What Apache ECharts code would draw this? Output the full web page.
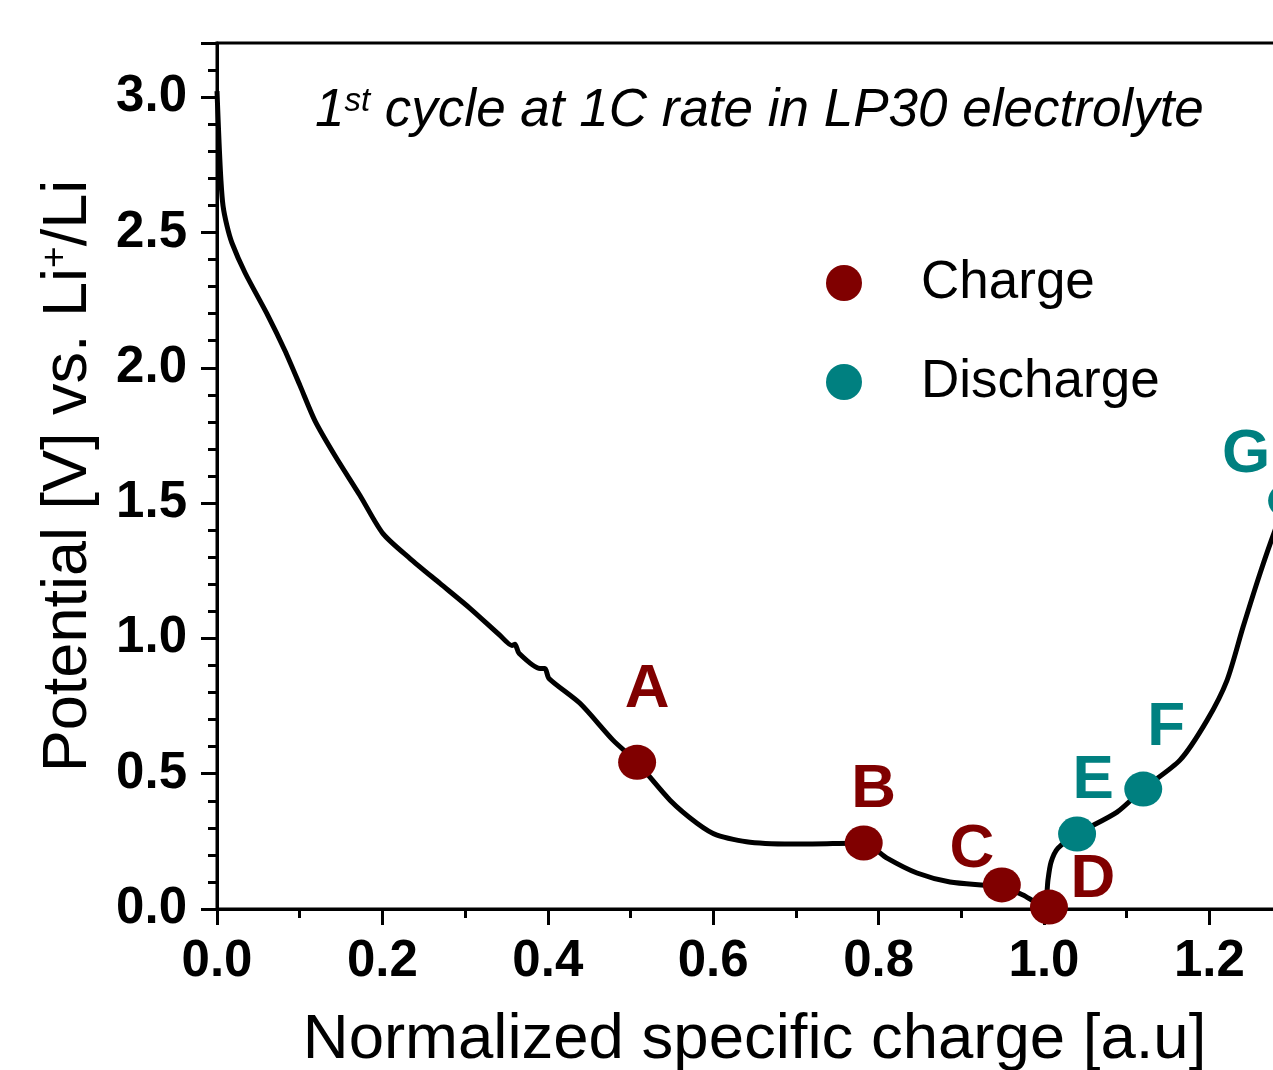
<!DOCTYPE html>
<html><head><meta charset="utf-8">
<script src="https://cdn.jsdelivr.net/npm/echarts@6/dist/echarts.min.js"></script>
<style>html,body{margin:0;padding:0;background:#fff;overflow:hidden}#c{width:1273px;height:1070px}</style>
</head><body><div id="c"></div>
<script>
// Potential curve (normalized specific charge, potential in V)
const curveX = [0, 0.0024, 0.0048, 0.0073, 0.0121, 0.0181, 0.0339, 0.0617, 0.0822, 0.1004, 0.1185, 0.1427, 0.1729, 0.2007, 0.2334, 0.2696, 0.3059, 0.3422, 0.3567, 0.3603, 0.3652, 0.3906, 0.3966, 0.4014, 0.4389, 0.4788, 0.5079, 0.5478, 0.5804, 0.6046, 0.6445, 0.7050, 0.7823, 0.8102, 0.8464, 0.8863, 0.9492, 0.9746, 0.9976, 1.0024, 1.0048, 1.0085, 1.0169, 1.0399, 1.0883, 1.1197, 1.1644, 1.1971, 1.2213, 1.2406, 1.2612, 1.2793, 1.294];
const curveY = [3.022, 2.838, 2.690, 2.598, 2.524, 2.461, 2.351, 2.192, 2.063, 1.934, 1.804, 1.675, 1.528, 1.387, 1.295, 1.203, 1.111, 1.011, 0.974, 0.978, 0.945, 0.889, 0.889, 0.852, 0.760, 0.624, 0.542, 0.402, 0.317, 0.273, 0.247, 0.240, 0.244, 0.188, 0.133, 0.100, 0.081, 0.052, 0.015, 0.033, 0.107, 0.173, 0.225, 0.277, 0.358, 0.443, 0.550, 0.697, 0.845, 1.041, 1.240, 1.399, 1.509];

const chargeNames = ['A', 'B', 'C', 'D'];
const chargeX = [0.508, 0.782, 0.949, 1.006];
const chargeY = [0.542, 0.244, 0.089, 0.007];

const dischargeNames = ['E', 'F', 'G'];
const dischargeX = [1.040, 1.120, 1.294];
const dischargeY = [0.277, 0.443, 1.509];

const legendNames = ['Charge', 'Discharge'];
const titleParts = ['1', 'st', ' cycle at 1C rate in LP30 electrolyte'];
const xAxisTitle = 'Normalized specific charge [a.u]';
const yAxisTitleParts = ['Potential [V] vs. Li', '+', '/Li'];

// label placement (style, not data)
const labelOffsets = { A: [10, -72], B: [10, -53], C: [-30, -35], D: [44, -27], E: [16, -53], F: [23, -61], G: [-41, -46] };

const FONT = '"Liberation Sans", Arial, Helvetica, sans-serif';
const RED = '#800000';
const TEAL = '#008080';

function pts(xs, ys) { return xs.map((x, i) => [x, ys[i]]); }
function marks(names, xs, ys) {
  return names.map((n, i) => ({
    name: n,
    value: [xs[i], ys[i]],
    label: { offset: labelOffsets[n] }
  }));
}

const chart = echarts.init(document.getElementById('c'), null, { renderer: 'canvas' });
chart.setOption({
  animation: false,
  backgroundColor: '#fff',
  title: {
    text: '{a|' + titleParts[0] + '}{sup|' + titleParts[1] + '}{a|' + titleParts[2] + '}',
    left: 310, top: 80,
    textStyle: {
      fontWeight: 'normal',
      rich: {
        a: { fontFamily: FONT, fontStyle: 'italic', fontWeight: 'normal', fontSize: 53, color: '#000' },
        sup: { fontFamily: FONT, fontStyle: 'italic', fontWeight: 'normal', fontSize: 33, color: '#000', verticalAlign: 'top' }
      }
    }
  },
  legend: {
    data: legendNames,
    orient: 'vertical',
    left: 821, top: 248,
    itemWidth: 38, itemHeight: 36,
    itemGap: 39,
    icon: 'circle',
    textStyle: { fontFamily: FONT, fontSize: 53, color: '#000', lineHeight: 60, padding: [0, 0, 0, 53] }
  },
  grid: {
    left: 217, top: 43, width: 1.3 * 827, height: 866,
    outerBoundsMode: 'none', containLabel: false,
    show: true, borderColor: '#000', borderWidth: 3, backgroundColor: 'transparent'
  },
  xAxis: {
    type: 'value', min: 0, max: 1.3, interval: 0.2,
    name: xAxisTitle, nameLocation: 'middle', nameGap: 99,
    nameTextStyle: { fontFamily: FONT, fontSize: 63.5, color: '#000', padding: [0, 0, 0, 0] },
    axisLine: { onZero: false, lineStyle: { color: '#000', width: 3 } },
    axisTick: { length: 16, lineStyle: { color: '#000', width: 3 } },
    minorTick: { show: true, splitNumber: 2, length: 9, lineStyle: { color: '#000', width: 3 } },
    splitLine: { show: false },
    axisLabel: { showMaxLabel: false, margin: 27, fontFamily: FONT, fontWeight: 'bold', fontSize: 51, color: '#000', formatter: v => v.toFixed(1) }
  },
  yAxis: {
    type: 'value', min: 0, max: 3.2, interval: 0.5,
    name: '{a|' + yAxisTitleParts[0] + '}{sup|' + yAxisTitleParts[1] + '}{a|' + yAxisTitleParts[2] + '}',
    nameLocation: 'middle', nameGap: 117, nameRotate: 90,
    nameTextStyle: {
      rich: {
        a: { fontFamily: FONT, fontSize: 63, color: '#000' },
        sup: { fontFamily: FONT, fontSize: 37, color: '#000', verticalAlign: 'top' }
      }
    },
    axisLine: { onZero: false, lineStyle: { color: '#000', width: 3 } },
    axisTick: { length: 16, lineStyle: { color: '#000', width: 3 } },
    minorTick: { show: true, splitNumber: 5, length: 9, lineStyle: { color: '#000', width: 3 } },
    splitLine: { show: false },
    axisLabel: { showMaxLabel: false, margin: 30, fontFamily: FONT, fontWeight: 'bold', fontSize: 51, color: '#000', formatter: v => v.toFixed(1) }
  },
  series: [
    {
      name: 'curve', type: 'line', data: pts(curveX, curveY),
      symbol: 'none', smooth: 0.25, clip: true,
      lineStyle: { color: '#000', width: 5 }, z: 2
    },
    {
      name: legendNames[0], type: 'scatter', data: marks(chargeNames, chargeX, chargeY),
      symbol: 'circle', symbolSize: [38, 35], itemStyle: { color: RED, opacity: 1 }, z: 3, clip: false,
      label: { show: true, position: 'inside', formatter: p => p.name, fontFamily: FONT, fontWeight: 'bold', fontSize: 62, color: RED }
    },
    {
      name: legendNames[1], type: 'scatter', data: marks(dischargeNames, dischargeX, dischargeY),
      symbol: 'circle', symbolSize: [38, 35], itemStyle: { color: TEAL, opacity: 1 }, z: 3, clip: false,
      label: { show: true, position: 'inside', formatter: p => p.name, fontFamily: FONT, fontWeight: 'bold', fontSize: 62, color: TEAL }
    }
  ]
});
</script></body></html>
